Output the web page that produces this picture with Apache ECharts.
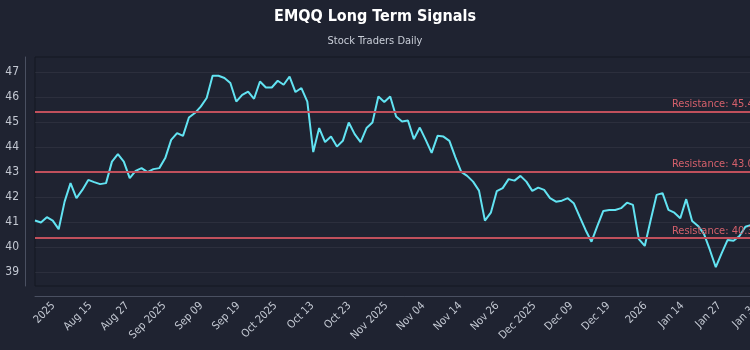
<!DOCTYPE html>
<html>
<head>
<meta charset="utf-8">
<title>EMQQ Long Term Signals</title>
<script src="https://cdn.jsdelivr.net/npm/echarts@6/dist/echarts.min.js"></script>
<style>
  html, body { margin: 0; padding: 0; background: #1f2331; overflow: hidden; }
  /* the plot runs a little past the right edge of the window */
  #chart { width: 775px; height: 350px; }
</style>
</head>
<body>
<div id="chart"></div>
<script>
// Closing prices, one entry per session
const closes = [
  41.07, 40.99, 41.20, 41.06, 40.72, 41.82, 42.56, 41.96, 42.29, 42.69,
  42.60, 42.52, 42.56, 43.42, 43.72, 43.42, 42.76, 43.05, 43.16, 43.00,
  43.12, 43.16, 43.56, 44.29, 44.56, 44.45, 45.18, 45.36, 45.62, 45.96,
  46.85, 46.85, 46.76, 46.56, 45.82, 46.09, 46.22, 45.93, 46.62, 46.38,
  46.38, 46.65, 46.49, 46.82, 46.20, 46.36, 45.82, 43.80, 44.76, 44.20,
  44.42, 44.02, 44.25, 44.98, 44.52, 44.20, 44.76, 44.98, 46.02, 45.80,
  46.02, 45.22, 45.02, 45.06, 44.32, 44.78, 44.29, 43.77, 44.45, 44.42,
  44.25, 43.60, 43.01, 42.85, 42.62, 42.26, 41.06, 41.38, 42.24, 42.36,
  42.72, 42.66, 42.85, 42.62, 42.25, 42.38, 42.29, 41.96, 41.82, 41.86,
  41.96, 41.76, 41.22, 40.69, 40.22, 40.85, 41.45, 41.49, 41.49, 41.56,
  41.78, 41.69, 40.32, 40.05, 41.09, 42.09, 42.16, 41.49, 41.38, 41.16,
  41.92, 41.05, 40.85, 40.53, 39.89, 39.20, 39.76, 40.29, 40.26, 40.45,
  40.82, 40.89
];

// Session slots on the time scale (the last few are still open)
const sessionCount = 126;

// Date labels shown under the chart
const xTickLabels = [
  '2025', 'Aug 15', 'Aug 27', 'Sep 2025', 'Sep 09', 'Sep 19', 'Oct 2025',
  'Oct 13', 'Oct 23', 'Nov 2025', 'Nov 04', 'Nov 14', 'Nov 26', 'Dec 2025',
  'Dec 09', 'Dec 19', '2026', 'Jan 14', 'Jan 27', 'Jan 30'
];

// Price levels printed on the value axis
const yTicks = [39, 40, 41, 42, 43, 44, 45, 46, 47];

// Long term resistance levels
const resistanceLevels = [45.42, 43.0, 40.36];

const FONT = "'DejaVu Sans Condensed', 'Liberation Sans Narrow', 'Liberation Sans', sans-serif";

const chart = echarts.init(document.getElementById('chart'), null, { renderer: 'canvas' });

chart.setOption({
  backgroundColor: '#1f2331',
  animation: false,
  title: {
    text: 'EMQQ Long Term Signals',
    subtext: 'Stock Traders Daily',
    left: 370,
    textAlign: 'center',
    top: 4,
    itemGap: 11,
    textStyle: { color: '#ffffff', fontSize: 16, fontWeight: 'bold', fontFamily: FONT },
    subtextStyle: { color: '#c9ced8', fontSize: 11, fontFamily: FONT }
  },
  grid: {
    left: 35, right: 0, top: 57, bottom: 64,
    show: true,
    borderColor: '#151822',
    borderWidth: 1,
    backgroundColor: 'transparent'
  },
  xAxis: [
    {
      type: 'category',
      data: Array.from({ length: sessionCount }, (_, i) => i),
      boundaryGap: false,
      show: false
    },
    {
      type: 'category',
      data: xTickLabels,
      boundaryGap: true,
      position: 'bottom',
      offset: 10,
      axisLine: { show: true, lineStyle: { color: '#4a5061', width: 1 } },
      axisTick: { show: false },
      splitLine: { show: false },
      axisLabel: {
        interval: 0,
        rotate: 45,
        margin: 8,
        color: '#c3c8d2',
        fontSize: 11,
        fontFamily: FONT
      }
    }
  ],
  yAxis: {
    type: 'value',
    min: 38.45,
    max: 47.6,
    offset: 10,
    axisLine: { show: true, lineStyle: { color: '#4a5061', width: 1 } },
    axisTick: { show: false, customValues: yTicks },
    axisLabel: {
      customValues: yTicks,
      color: '#c3c8d2',
      fontSize: 12,
      margin: 6,
      fontFamily: FONT
    },
    splitLine: { show: true, lineStyle: { color: 'rgba(255,255,255,0.06)', width: 1 } }
  },
  series: [
    {
      type: 'line',
      xAxisIndex: 0,
      data: closes,
      showSymbol: false,
      smooth: false,
      lineStyle: { color: '#62e3f2', width: 2 },
      markLine: {
        silent: true,
        symbol: ['none', 'none'],
        lineStyle: { color: '#c0505c', width: 2, type: 'solid' },
        label: {
          position: 'insideEndTop',
          distance: [15, 2],
          color: '#d4606b',
          fontSize: 11,
          fontFamily: FONT,
          formatter: p => 'Resistance: ' + p.value.toFixed(2)
        },
        data: resistanceLevels.map(v => ({ yAxis: v }))
      }
    }
  ]
});
</script>
</body>
</html>
